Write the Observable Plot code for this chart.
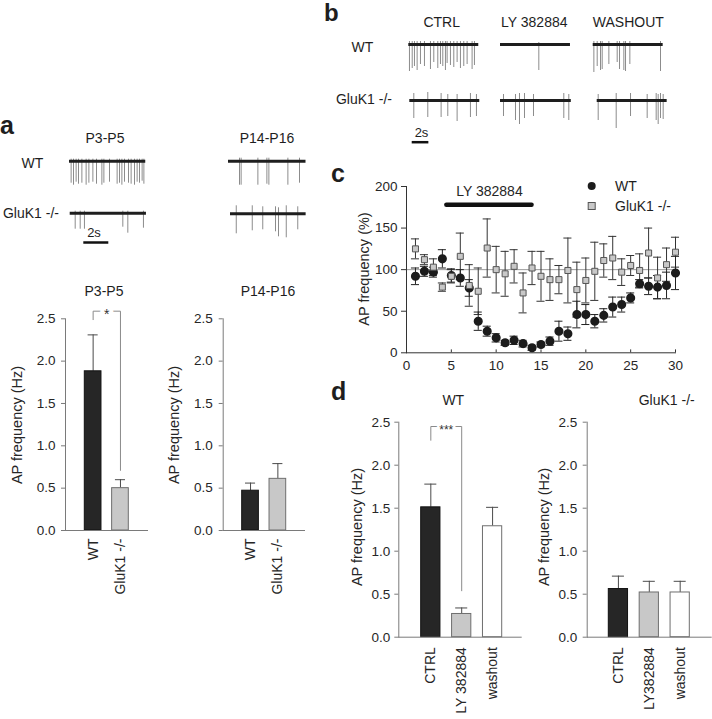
<!DOCTYPE html>
<html><head><meta charset="utf-8">
<script src="https://cdn.jsdelivr.net/npm/d3@7"></script>
<script src="https://cdn.jsdelivr.net/npm/@observablehq/plot@0.6"></script>
<style>
html,body{margin:0;padding:0;background:#fff;}
#fig{position:relative;width:712px;height:719px;overflow:hidden;background:#fff;font-family:"Liberation Sans",Arial,Helvetica,sans-serif;}
#fig svg{position:absolute;left:0;top:0;}
</style></head><body><div id="fig"></div>
<script>
// ================= DATA =================
// panel a bar charts
const groupsA = ["WT", "GluK1 -/-"];
const p3p5Mean = [1.88, 0.50];
const p3p5Sem = [0.43, 0.10];
const p14p16Mean = [0.47, 0.61];
const p14p16Sem = [0.09, 0.18];
// panel d bar charts
const condWT = ["CTRL", "LY 382884", "washout"];
const condKO = ["CTRL", "LY382884", "washout"];
const wtDMean = [1.51, 0.27, 1.29];
const wtDSem = [0.27, 0.07, 0.22];
const koDMean = [0.56, 0.52, 0.52];
const koDSem = [0.15, 0.13, 0.13];
const barTicks = [0, 0.5, 1.0, 1.5, 2.0, 2.5];
// panel c time course (AP frequency, % of control)
const timeC = [1,2,3,4,5,6,7,8,9,10,11,12,13,14,15,16,17,18,19,20,21,22,23,24,25,26,27,28,29,30];
const wtC    = [92,98,97,113,93,90,78,38,26,18,12,15,11,6,10,14,26,23,46,46,38,45,55,58,66,83,80,79,81,96];
const wtCErr = [10,6,6,11,8,10,10,11,6,5,3,5,4,3,3,5,12,8,16,12,8,8,12,9,6,5,10,14,16,20];
const koC    = [125,112,103,79,92,116,81,74,126,100,95,104,72,102,92,88,88,99,76,87,98,111,114,97,105,99,120,90,106,121];
const koCErr = [12,6,10,5,8,28,25,28,35,28,27,20,24,20,30,25,17,39,33,27,35,20,26,16,12,20,30,25,20,18];
const xTicksC = [0,5,10,15,20,25,30];
const yTicksC = [0,50,100,150,200];
const drugLabel = "LY 382884";
const drugStart = 4.5, drugEnd = 14, drugLevel = 178;
// example traces: spikes as [time (s), upward deflection, downward deflection]
const aWT_P3 = [[0.13,2,-22],[0.32,2,-24],[0.53,2,-21],[0.72,2,-23],[0.99,2,-22],[1.33,2,-24],[1.55,2,-22],[1.87,2,-21],[2.16,2,-23],[2.59,2,-24],[2.75,2,-22],[3.2,2,-21],[3.81,2,-23],[4.0,2,-22],[4.19,2,-24],[4.4,2,-21],[4.72,2,-22],[4.93,2,-23],[5.2,2,-24],[5.41,2,-21],[5.6,2,-22],[5.81,2,-20],[5.95,2,-23]];
const aKO_P3 = [[0.4,2,-16],[0.8,2,-16],[1.14,2,-16],[4.21,2,-14],[4.61,2,-20],[5.86,2,-15]];
const aWT_P14 = [[0.88,3,-24],[1.01,3,-24],[2.35,3,-24],[3.07,3,-23],[3.23,3,-24],[4.75,3,-24],[5.68,3,-22]];
const aKO_P14 = [[0.46,8,-20],[1.74,8,-17],[2.58,7,-16],[3.6,7,-18],[3.84,6,-23],[4.46,8,-24],[5.38,7,-16]];
const bWT_ctrl = [[0.08,3,-27],[0.41,3,-24],[0.68,3,-22],[1.0,3,-26],[1.4,3,-20],[1.88,3,-22],[2.6,3,-25],[3.0,3,-18],[3.48,3,-24],[3.8,3,-20],[4.08,3,-22],[4.4,3,-26],[4.6,3,-19],[5.0,3,-21],[5.4,3,-23],[5.8,3,-18],[6.2,3,-24],[6.6,3,-22],[7.0,3,-20],[7.6,3,-25],[7.88,3,-21]];
const bWT_ly = [[4.6,2,-26]];
const bWT_wash = [[0.08,3,-28],[0.48,3,-22],[0.88,3,-26],[1.08,3,-25],[1.88,3,-20],[2.88,3,-18],[3.16,3,-25],[3.68,3,-26],[3.88,3,-27],[4.4,3,-20],[8.08,3,-27]];
const bKO_ctrl = [[0.48,7,-18],[2.16,8,-17],[3.76,7,-17],[4.56,6,-16],[5.68,6,-21],[7.28,7,-17],[8.0,6,-16]];
const bKO_ly = [[0.36,6,-16],[1.8,6,-20],[2.28,7,-24],[2.88,7,-18],[3.96,6,-16],[7.6,7,-18],[8.2,6,-20]];
const bKO_wash = [[0.12,6,-20],[2.28,7,-28],[4.0,7,-16],[6.0,6,-18],[7.08,7,-20],[7.32,6,-24],[7.6,7,-18],[7.92,6,-19]];

// ================= LAYOUT =================
const W = 712, H = 719;
const FONT = '"Liberation Sans", Arial, Helvetica, sans-serif';
const fig = document.getElementById("fig");
function add(svg){ svg.style.position="absolute"; svg.style.left="0px"; svg.style.top="0px"; fig.appendChild(svg); }
const baseStyle = {fontFamily: FONT, fontSize: "13px", color: "#262626", background: "transparent", overflow: "visible"};
const DARK = "#262626", LIGHT = "#c8c8c8", WHITE = "#ffffff";

// ---- traces ----
function tracePlot(x0, y0, pxs, dur, spikes){
  return Plot.plot({
    width: W, height: H,
    marginLeft: x0, marginRight: W - (x0 + dur*pxs),
    marginTop: y0 - 12, marginBottom: H - (y0 + 32),
    x: {domain: [0, dur], axis: null},
    y: {domain: [-32, 12], axis: null},
    style: baseStyle,
    marks: [
      Plot.ruleX(spikes, {x: d => d[0], y1: d => d[1], y2: d => d[2], stroke: "#8c8c8c", strokeWidth: 1}),
      Plot.ruleY([0], {stroke: "#1e1e1e", strokeWidth: 3})
    ]
  });
}
function scaleBar(x0, y, pxs, seconds){
  return Plot.plot({
    width: W, height: H,
    marginLeft: x0, marginRight: W - (x0 + seconds*pxs),
    marginTop: y - 10, marginBottom: H - y,
    x: {domain: [0, seconds], axis: null},
    y: {domain: [0, 1], axis: null},
    style: baseStyle,
    marks: [Plot.ruleY([0], {x1: 0, x2: seconds, stroke: "#111", strokeWidth: 2.5})]
  });
}
add(tracePlot(69, 160.7, 12.5, 6.1, aWT_P3));
add(tracePlot(69.7, 212.7, 12.5, 6.1, aKO_P3));
add(tracePlot(228, 160.7, 12.5, 6.2, aWT_P14));
add(tracePlot(230, 213.3, 12.5, 6.05, aKO_P14));
add(scaleBar(83.3, 242, 12.5, 2));
add(tracePlot(408.3, 44, 8.33, 8.4, bWT_ctrl));
add(tracePlot(500, 44, 8.33, 8.4, bWT_ly));
add(tracePlot(592.7, 44, 8.33, 8.4, bWT_wash));
add(tracePlot(409.3, 100, 8.33, 8.4, bKO_ctrl));
add(tracePlot(500, 100, 8.33, 8.5, bKO_ly));
add(tracePlot(596.7, 100, 8.33, 8.4, bKO_wash));
add(scaleBar(411.7, 141.7, 8.33, 2));

// ---- bar charts ----
function barPlot(o){
  const table = o.cats.map((c,i)=>({cat:c, mean:o.means[i], sem:o.sems[i], fill:o.fills[i], stroke:o.strokes[i]}));
  const n = o.cats.length;
  const step = (o.range[1]-o.range[0])/(n - o.padIn);
  const marks = [
    Plot.ruleX(table, {x:"cat", y1:"mean", y2:d=>d.mean+d.sem, stroke:"#4a4a4a", strokeWidth:1}),
    Plot.tickY(table, {x:"cat", y:d=>d.mean+d.sem, stroke:"#4a4a4a", strokeWidth:1, insetLeft:o.capInset, insetRight:o.capInset}),
    Plot.barY(table, {x:"cat", y:"mean", fill:"fill", stroke:"stroke", strokeWidth:1}),
    Plot.ruleY([0], {stroke:"#7a7a7a"}),
    Plot.frame({anchor:"left", stroke:"#7a7a7a"}),
    Plot.axisY({ticks: barTicks, tickFormat: d3.format(".1f"), tickSize: 4, tickPadding: o.tickPad, fontSize: 13.5, stroke:"#7a7a7a", label: null}),
    Plot.axisX({tickRotate: -90, tickSize: 0, tickPadding: o.xPad, fontSize: 14, label: null})
  ];
  if (o.bracket){
    const b = o.bracket;
    const pts = [{cat:b.from, v:b.fromLow},{cat:b.from, v:b.top},{cat:b.to, v:b.top},{cat:b.to, v:b.toLow}];
    marks.push(Plot.line(pts, {x:"cat", y:"v", stroke:"#8a8a8a", strokeWidth:1}));
    marks.push(Plot.text([b], {x:"from", y:"top", text:"label", dx: step/2, dy: b.size*0.27, fontSize: b.size, fill:"#333", stroke:"white", strokeWidth: b.halo, paintOrder:"stroke"}));
  }
  return Plot.plot({
    width: W, height: H,
    marginLeft: o.left, marginRight: W - o.right, marginTop: o.top, marginBottom: H - o.bottom,
    x: {type:"band", domain:o.cats, range:o.range, paddingInner:o.padIn, paddingOuter:0, round:false},
    y: {domain:[0,2.5]},
    color: {type:"identity"},
    style: baseStyle,
    marks
  });
}
add(barPlot({cats:groupsA, means:p3p5Mean, sems:p3p5Sem, fills:[DARK,LIGHT], strokes:["#111","#6e6e6e"],
  left:65, right:148, top:318.3, bottom:530, range:[84.3,128.3], padIn:0.39, capInset:3.3, tickPad:6, xPad:8,
  bracket:{from:"WT", to:"GluK1 -/-", top:2.59, fromLow:2.49, toLow:0.71, label:"*", size:14, halo:8}}));
add(barPlot({cats:groupsA, means:p14p16Mean, sems:p14p16Sem, fills:[DARK,LIGHT], strokes:["#111","#6e6e6e"],
  left:222.7, right:305, top:318.3, bottom:530, range:[241.7,285.7], padIn:0.39, capInset:3.3, tickPad:6.5, xPad:8}));
add(barPlot({cats:condWT, means:wtDMean, sems:wtDSem, fills:[DARK,LIGHT,WHITE], strokes:["#111","#6e6e6e","#6e6e6e"],
  left:398.3, right:521.7, top:421.7, bottom:636.7, range:[420.7,501.7], padIn:0.377, capInset:3.6, tickPad:4.5, xPad:10,
  bracket:{from:"CTRL", to:"LY 382884", top:2.45, fromLow:2.29, toLow:0.54, label:"***", size:12, halo:5}}));
add(barPlot({cats:condKO, means:koDMean, sems:koDSem, fills:[DARK,LIGHT,WHITE], strokes:["#111","#6e6e6e","#6e6e6e"],
  left:586.7, right:711.7, top:421.7, bottom:636.7, range:[608.3,689.3], padIn:0.377, capInset:3.6, tickPad:6, xPad:10}));

// ---- panel c time course ----
const wtRows = timeC.map((t,i)=>({t, v:wtC[i], e:wtCErr[i]}));
const koRows = timeC.map((t,i)=>({t, v:koC[i], e:koCErr[i]}));
const CAP = 0.45;
add(Plot.plot({
  width: W, height: H,
  marginLeft: 406, marginRight: 37, marginTop: 186, marginBottom: H - 352.3,
  x: {domain:[0,30]}, y: {domain:[0,200]},
  style: baseStyle,
  marks: [
    Plot.ruleY([100], {stroke:"#9a9a9a", strokeWidth:1}),
    Plot.frame({anchor:"left", stroke:"#333"}),
    Plot.frame({anchor:"bottom", stroke:"#333"}),
    Plot.axisY({ticks:yTicksC, tickSize:5, tickPadding:4, fontSize:13.5, stroke:"#333", label:null}),
    Plot.axisX({ticks:xTicksC, tickSize:0, tickPadding:8, fontSize:13.5, label:null}),
    Plot.ruleX(xTicksC, {y1:0, y2:3.5, stroke:"#333"}),
    Plot.ruleX(koRows, {x:"t", y1:d=>d.v-d.e, y2:d=>d.v+d.e, stroke:"#333"}),
    Plot.ruleY(koRows, {y:d=>d.v+d.e, x1:d=>d.t-CAP, x2:d=>d.t+CAP, stroke:"#333"}),
    Plot.ruleY(koRows, {y:d=>d.v-d.e, x1:d=>d.t-CAP, x2:d=>d.t+CAP, stroke:"#333"}),
    Plot.ruleX(wtRows, {x:"t", y1:d=>d.v-d.e, y2:d=>d.v+d.e, stroke:"#222"}),
    Plot.ruleY(wtRows, {y:d=>d.v+d.e, x1:d=>d.t-CAP, x2:d=>d.t+CAP, stroke:"#222"}),
    Plot.ruleY(wtRows, {y:d=>d.v-d.e, x1:d=>d.t-CAP, x2:d=>d.t+CAP, stroke:"#222"}),
    Plot.dot(wtRows, {x:"t", y:"v", r:3.8, fill:"#1c1c1c", stroke:"#1c1c1c"}),
    Plot.dot(koRows, {x:"t", y:"v", symbol:"square", r:3.4, fill:LIGHT, stroke:"#555", strokeWidth:1}),
    Plot.ruleY([drugLevel], {x1:drugStart, x2:drugEnd, stroke:"#111", strokeWidth:4.5, strokeLinecap:"round"}),
    Plot.text([drugLabel], {x:(drugStart+drugEnd)/2, y:drugLevel, dy:-13, fontSize:14, fill:"#262626"})
  ]
}));

// ---- overlay text (titles, panel letters, labels, legend) ----
const ov = d3.create("svg").attr("width", W).attr("height", H)
  .style("font-family", FONT).style("overflow","visible");
const labels = [
  ["a", 0, 133.5, 25, "bold", "start"],
  ["P3-P5", 105, 143, 14, "normal", "middle"],
  ["P14-P16", 267, 143, 14, "normal", "middle"],
  ["WT", 32.5, 168, 14, "normal", "middle"],
  ["GluK1 -/-", 31, 218, 14, "normal", "middle"],
  ["2s", 94, 237, 13, "normal", "middle"],
  ["P3-P5", 104, 296, 14, "normal", "middle"],
  ["P14-P16", 268, 296, 14, "normal", "middle"],
  ["b", 324, 21, 24, "bold", "start"],
  ["CTRL", 441.7, 26.5, 14, "normal", "middle"],
  ["LY 382884", 534.3, 26.5, 14, "normal", "middle"],
  ["WASHOUT", 628.3, 26.5, 14, "normal", "middle"],
  ["WT", 362.5, 52, 14, "normal", "middle"],
  ["GluK1 -/-", 364, 104, 14, "normal", "middle"],
  ["2s", 421.5, 137, 13, "normal", "middle"],
  ["c", 331, 182, 25, "bold", "start"],
  ["WT", 615, 191, 14, "normal", "start"],
  ["GluK1 -/-", 615, 211, 14, "normal", "start"],
  ["d", 331, 400, 25, "bold", "start"],
  ["WT", 453.3, 405, 14, "normal", "middle"],
  ["GluK1 -/-", 666.7, 405, 14, "normal", "middle"]
];
for (const [t,x,y,s,w,a] of labels){
  ov.append("text").attr("x",x).attr("y",y).attr("font-size",s).attr("font-weight",w)
    .attr("text-anchor",a).attr("fill","#1e1e1e").text(t);
}
const yLabels = [
  ["AP frequency (Hz)", 17, 425],
  ["AP frequency (Hz)", 174, 425],
  ["AP frequency (%)", 363.5, 269],
  ["AP frequency (Hz)", 357, 527],
  ["AP frequency (Hz)", 544, 527]
];
for (const [t,x,y] of yLabels){
  ov.append("text").attr("transform",`translate(${x},${y}) rotate(-90)`)
    .attr("text-anchor","middle").attr("dominant-baseline","central")
    .attr("font-size",14.5).attr("fill","#262626").text(t);
}
ov.append("circle").attr("cx",591.7).attr("cy",186).attr("r",4).attr("fill","#1c1c1c");
ov.append("rect").attr("x",588.2).attr("y",202.5).attr("width",7).attr("height",7).attr("fill",LIGHT).attr("stroke","#555");
fig.appendChild(ov.node());
</script>
</body></html>
